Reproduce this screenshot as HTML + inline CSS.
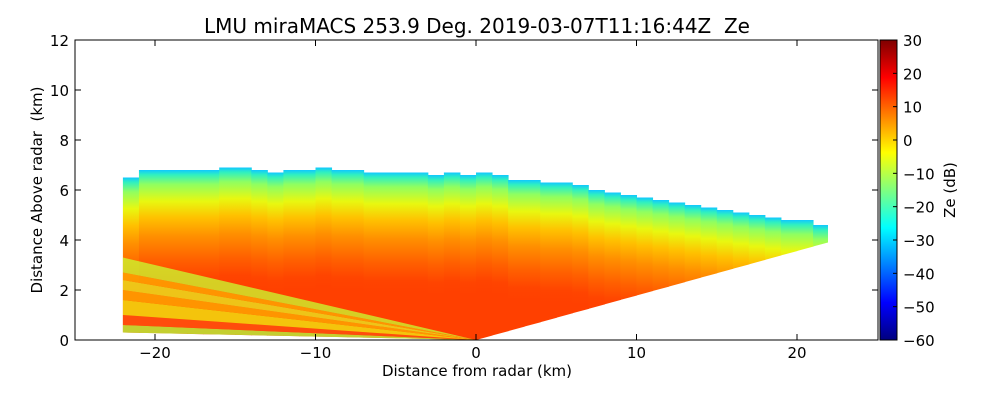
<!DOCTYPE html>
<html><head><meta charset="utf-8"><style>
body{margin:0;background:#fff;width:1000px;height:400px;overflow:hidden}
text{font-family:"DejaVu Sans","Liberation Sans",sans-serif;fill:#000;white-space:pre}
</style></head><body>
<svg id="chart" width="1000" height="400" xmlns="http://www.w3.org/2000/svg">
<defs id="defs">
<linearGradient id="jet" x1="0" y1="1" x2="0" y2="0">
<stop offset="0" stop-color="#00007f"/><stop offset="0.125" stop-color="#0000ff"/>
<stop offset="0.375" stop-color="#00ffff"/><stop offset="0.625" stop-color="#ffff00"/>
<stop offset="0.875" stop-color="#ff0000"/><stop offset="1" stop-color="#7f0000"/>
</linearGradient>
<clipPath id="plotclip"><rect x="75" y="40" width="803" height="300"/></clipPath>
</defs>
<text x="477" y="33" font-size="20" text-anchor="middle">LMU miraMACS 253.9 Deg. 2019-03-07T11:16:44Z  Ze</text>
<g id="marks" clip-path="url(#plotclip)"></g>
<rect x="75" y="40" width="803" height="300" fill="none" stroke="#000" stroke-width="1"/>
<g id="axes"></g>
<rect x="880" y="40" width="17" height="300" fill="url(#jet)" stroke="#000" stroke-width="1"/>
<g id="cbticks"></g>
<text x="955" y="190" font-size="15" text-anchor="middle" transform="rotate(-90 955 190)">Ze (dB)</text>
<text x="477" y="376" font-size="15" text-anchor="middle">Distance from radar (km)</text>
<text x="42" y="190" font-size="15" text-anchor="middle" transform="rotate(-90 42 190)">Distance Above radar  (km)</text>
</svg>
<script>
const distances=[-22,-21,-20,-19,-18,-17,-16,-15,-14,-13,-12,-11,-10,-9,-8,-7,-6,-5,-4,-3,-2,-1,0,1,2,3,4,5,6,7,8,9,10,11,12,13,14,15,16,17,18,19,20,21,21.9];
const topHeights=[6.5,6.8,6.8,6.8,6.8,6.8,6.9,6.9,6.8,6.7,6.8,6.8,6.9,6.8,6.8,6.7,6.7,6.7,6.7,6.6,6.7,6.6,6.7,6.6,6.4,6.4,6.3,6.3,6.2,6.0,5.9,5.8,5.7,5.6,5.5,5.4,5.3,5.2,5.1,5.0,4.9,4.8,4.8,4.6,4.7];
const stripeLow=[0.3,0.6,1.0,1.6,2.0,2.4,2.7];
const stripeHigh=[0.6,1.0,1.6,2.0,2.4,2.7,3.3];
const stripeColors=["#b0ff40","#ff5010","#f0f010","#ffb000","#e8f020","#ffb000","#c8ff30"];
const xTicks=[-20,-10,0,10,20];
const yTicks=[0,2,4,6,8,10,12];
const cbTicks=[30,20,10,0,-10,-20,-30,-40,-50,-60];
const X=v=>476+v*16.05, Y=v=>340-v*25, CB=v=>340-(v+60)/90*300;
const ns="http://www.w3.org/2000/svg";
const marks=document.getElementById('marks');
const defs=document.getElementById('defs');
function mk(tag,attrs,parent){const e=document.createElementNS(ns,tag);for(const k in attrs)e.setAttribute(k,attrs[k]);parent.appendChild(e);return e;}
const depthStops=[[0,'#10c8ff'],[0.04,'#30f0c0'],[0.12,'#90ff60'],[0.26,'#e8f810'],[0.4,'#ffc000'],[0.55,'#ff9000'],[0.75,'#ff6000'],[0.9,'#ff4400'],[1,'#ff4000']];
function bottom(d){return d<0? Math.abs(d)/22*0.3 : d/21.9*3.9;}
for(let i=0;i<distances.length-1;i++){
  const d0=distances[i],d1=distances[i+1];
  const t=topHeights[i];
  const g=mk('linearGradient',{id:'cg'+i,gradientUnits:'userSpaceOnUse',x1:0,x2:0,y1:Y(t),y2:Y(t-4.8)},defs);
  depthStops.forEach(s=>mk('stop',{offset:s[0],'stop-color':s[1]},g));
  const p=mk('polygon',{points:`${X(d0)},${Y(t)} ${X(d1)+0.5},${Y(t)} ${X(d1)+0.5},${Y(bottom(d1))} ${X(d0)},${Y(bottom(d0))}`,fill:`url(#cg${i})`},marks);
  
  
}
for(let i=0;i<stripeLow.length;i++){
  const p=mk('polygon',{points:`${X(0)},${Y(0)} ${X(-22)},${Y(stripeLow[i])} ${X(-22)},${Y(stripeHigh[i])}`,fill:stripeColors[i],opacity:0.75},marks);
  
  
}
const ax=document.getElementById('axes');
xTicks.forEach(v=>{
  mk('line',{x1:X(v),x2:X(v),y1:340,y2:334,stroke:'#000'},ax);
  mk('line',{x1:X(v),x2:X(v),y1:40,y2:46,stroke:'#000'},ax);
  const t=mk('text',{x:X(v),y:358,'font-size':15,'text-anchor':'middle'},ax);t.textContent=v<0?'\u2212'+(-v):v;
  
  
});
yTicks.forEach(v=>{
  mk('line',{x1:75,x2:81,y1:Y(v),y2:Y(v),stroke:'#000'},ax);
  mk('line',{x1:878,x2:872,y1:Y(v),y2:Y(v),stroke:'#000'},ax);
  const t=mk('text',{x:69,y:Y(v)+6,'font-size':15,'text-anchor':'end'},ax);t.textContent=v;
  
  
});
const cb=document.getElementById('cbticks');
cbTicks.forEach(v=>{
  mk('line',{x1:893,x2:897,y1:CB(v),y2:CB(v),stroke:'#000'},cb);
  const t=mk('text',{x:903,y:CB(v)+6,'font-size':15},cb);t.textContent=v<0?'\u2212'+(-v):v;
  
  
});
</script>
</body></html>
